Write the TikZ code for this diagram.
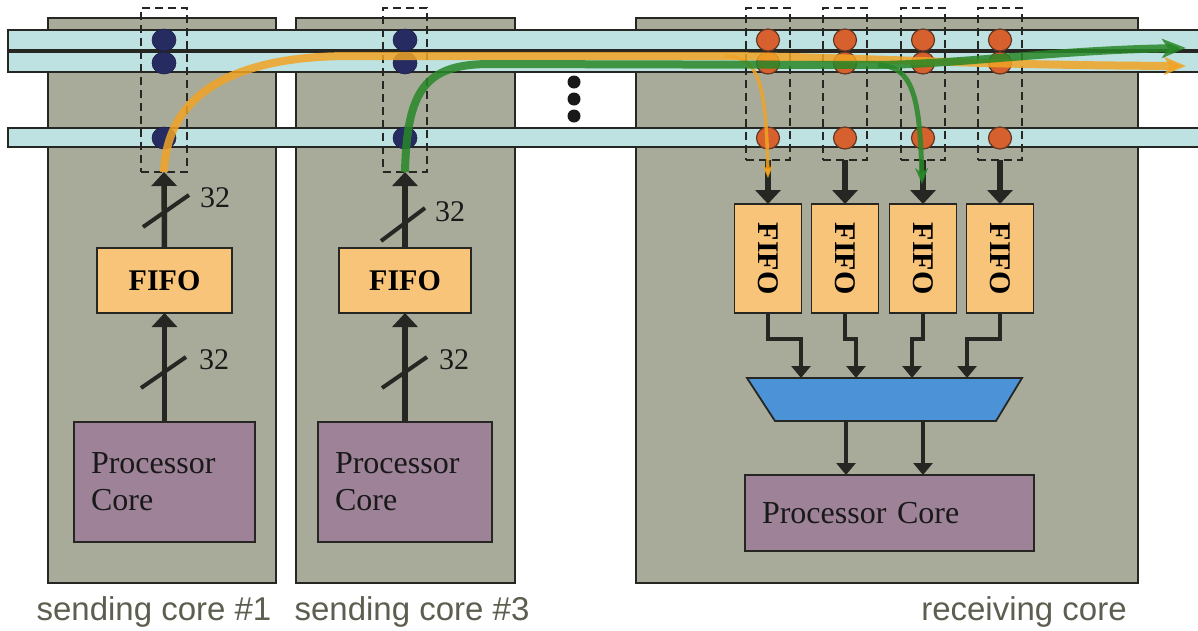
\documentclass[tikz,border=0pt]{standalone}
\usepackage{fontspec}
\usepackage{graphicx}
\setmainfont{Liberation Serif}
\setsansfont{Liberation Sans}
\usetikzlibrary{arrows.meta,shapes.geometric}
\definecolor{panelc}{RGB}{168,171,154}
\definecolor{barc}{RGB}{190,226,226}
\definecolor{navyc}{RGB}{38,43,98}
\definecolor{redc}{RGB}{214,96,46}
\definecolor{reddk}{RGB}{100,55,35}
\definecolor{fifoc}{RGB}{248,196,122}
\definecolor{procc}{RGB}{158,130,152}
\definecolor{muxc}{RGB}{75,147,214}
\definecolor{orangep}{RGB}{240,163,36}
\definecolor{greenp}{RGB}{40,135,40}
\definecolor{labelc}{RGB}{92,94,80}
\definecolor{linec}{RGB}{38,38,34}
\begin{document}
\begin{tikzpicture}[x=1pt,y=-1pt,
  panel/.style={draw=linec, line width=2pt, fill=panelc, inner sep=0pt, outer sep=0pt},
  bar/.style={draw=linec, line width=1.8pt, fill=barc},
  bdot/.style={ellipse, fill=navyc, draw=navyc!70!black, line width=0.6pt, minimum width=24pt, minimum height=22pt, inner sep=0pt},
  rdot/.style={ellipse, fill=redc, draw=reddk, line width=1.2pt, minimum width=23pt, minimum height=22pt, inner sep=0pt},
  tap/.style={draw=linec, line width=2pt, dash pattern=on 8pt off 5pt, inner sep=0pt, outer sep=0pt},
  fifo/.style={draw=linec, line width=1.8pt, fill=fifoc, inner sep=0pt, outer sep=0pt, font=\fontsize{30pt}{30pt}\selectfont\bfseries, text=black},
  proc/.style={draw=linec, line width=1.8pt, fill=procc, inner sep=0pt, outer sep=0pt, font=\fontsize{32pt}{37pt}\selectfont, text=black!90, align=left},
  blk/.style={draw=linec, line width=5.5pt, -{Triangle[length=14pt,width=25pt]}},
  blks/.style={draw=linec, line width=4.5pt, -{Triangle[length=12pt,width=19pt]}},
  slash/.style={draw=linec, line width=4pt},
  bw/.style={font=\fontsize{30pt}{30pt}\selectfont, text=black!90},
  lab/.style={font=\sffamily\fontsize{33pt}{33pt}\selectfont, text=labelc, anchor=base},
  oflow/.style={draw=orangep, line width=8pt, draw opacity=0.85, -{Stealth[length=22pt,width=18pt,inset=6pt]}},
  gflow/.style={draw=greenp, line width=8pt, draw opacity=0.85, -{Stealth[length=24pt,width=19pt,inset=6pt]}},
]
\useasboundingbox (0,0) rectangle (1198,630);

% panels
\node[panel, minimum width=228pt, minimum height=565pt] (P1) at (162,300.5) {};
\node[panel, minimum width=219pt, minimum height=565pt] (P3) at (405.5,300.5) {};
\node[panel, minimum width=502pt, minimum height=565pt] (PR) at (887,300.5) {};

% buses
\draw[bar] (8,30) rectangle (1215,50);
\draw[bar] (8,52) rectangle (1215,72);
\draw[bar] (8,128) rectangle (1215,147);

% ellipsis
\foreach \yy in {82,99,116} \fill[black!90] (574,\yy) circle (6.5pt);

% tap dots
\foreach \xx/\nm in {164/a,405/b} {
  \node[bdot] (\nm1) at (\xx,40) {};
  \node[bdot] (\nm2) at (\xx,63) {};
  \node[bdot] (\nm3) at (\xx,138) {};
}
\foreach \xx/\nm in {768/c,845/d,923/e,1000/f} {
  \node[rdot] (\nm1) at (\xx,40) {};
  \node[rdot] (\nm2) at (\xx,63) {};
  \node[rdot] (\nm3) at (\xx,138) {};
}

% dashed taps
\node[tap, minimum width=46pt, minimum height=164pt] (d1) at (164,90) {};
\node[tap, minimum width=44pt, minimum height=164pt] (d3) at (405,90) {};
\node[tap, minimum width=44pt, minimum height=152pt] (r1) at (768,84) {};
\node[tap, minimum width=44pt, minimum height=152pt] (r2) at (845,84) {};
\node[tap, minimum width=44pt, minimum height=152pt] (r3) at (923,84) {};
\node[tap, minimum width=44pt, minimum height=152pt] (r4) at (1000,84) {};

% sending core 1
\node[fifo, minimum width=135pt, minimum height=65pt] (f1) at (164.5,280.5) {FIFO};
\node[proc, minimum width=181pt, minimum height=120pt, text width=147pt] (pc1) at (164.5,482) {Processor\\Core};
\draw[blk] (f1.north) -- (d1.south);
\draw[blk] (pc1.north) -- (f1.south);
\coordinate (s1a) at (143,227); \coordinate (s1b) at (189,195);
\draw[slash] (s1a) -- (s1b);
\node[bw] (n1a) at (215,198) {32};
\coordinate (s1c) at (141,388); \coordinate (s1d) at (186,357);
\draw[slash] (s1c) -- (s1d);
\node[bw] (n1b) at (214,360) {32};

% sending core 3
\node[fifo, minimum width=132pt, minimum height=65pt] (f3) at (405,280.5) {FIFO};
\node[proc, minimum width=174pt, minimum height=120pt, text width=140pt] (pc3) at (405,482) {Processor\\Core};
\draw[blk] (f3.north) -- (d3.south);
\draw[blk] (pc3.north) -- (f3.south);
\coordinate (s3a) at (381,241); \coordinate (s3b) at (425,208);
\draw[slash] (s3a) -- (s3b);
\node[bw] (n3a) at (450,212) {32};
\coordinate (s3c) at (382,388); \coordinate (s3d) at (427,357);
\draw[slash] (s3c) -- (s3d);
\node[bw] (n3b) at (454,360) {32};

% receiving core
\foreach \i/\xx in {1/768,2/845,3/923,4/1000} {
  \node[fifo, minimum width=67pt, minimum height=109pt] (rf\i) at (\xx,258.5) {\rotatebox{-90}{FIFO}};
  \draw[blk] (r\i.south) -- (rf\i.north);
}
\coordinate (mA) at (747,378); \coordinate (mB) at (1022,378);
\coordinate (mC) at (996,421); \coordinate (mD) at (775,421);
\draw[draw=linec, line width=1.8pt, fill=muxc] (mA) -- (mB) -- (mC) -- (mD) -- cycle;
\coordinate (mi1) at (801,378); \coordinate (mi2) at (856,378);
\coordinate (mi3) at (912,378); \coordinate (mi4) at (967,378);
\foreach \i in {1,2,3,4} {
  \draw[blks] (rf\i.south) -- ++(0,26) -| (mi\i);
}
\node[proc, minimum width=289pt, minimum height=76pt, text width=255pt] (rpc) at (889.5,513) {Processor Core};
\coordinate (mo1) at (846,421); \coordinate (mo2) at (923,421);
\draw[blks] (mo1) -- (mo1 |- rpc.north);
\draw[blks] (mo2) -- (mo2 |- rpc.north);

% data flows
\coordinate (oBr) at (725,56);
\coordinate (oEnd) at (1186,66);
\coordinate (oDn) at (768,178);
\coordinate (gBr) at (878,65);
\coordinate (gEnd) at (1186,48);
\coordinate (gDn) at (922,184);
\draw[oflow] (d1.south) .. controls (167,90) and (240,56) .. (350,56) -- (oBr) .. controls (860,57) and (960,65) .. (oEnd);
\draw[draw=orangep, line width=3.5pt, draw opacity=0.85, -{Stealth[length=13pt,width=11pt,inset=4pt]}] (oBr) .. controls (758,57) and (766,80) .. (oDn);
\draw[gflow] (d3.south) .. controls (407,90) and (425,64) .. (490,64) -- (gBr) .. controls (960,64) and (1060,50) .. (gEnd);
\draw[draw=greenp, line width=5pt, draw opacity=0.85, -{Stealth[length=16pt,width=13pt,inset=5pt]}] (gBr) .. controls (912,66) and (920,95) .. (gDn);

% labels
\node[lab] (l1) at (154,620) {sending core \#1};
\node[lab] (l3) at (412,620) {sending core \#3};
\node[lab] (lr) at (1024,620) {receiving core};
\end{tikzpicture}
\end{document}
